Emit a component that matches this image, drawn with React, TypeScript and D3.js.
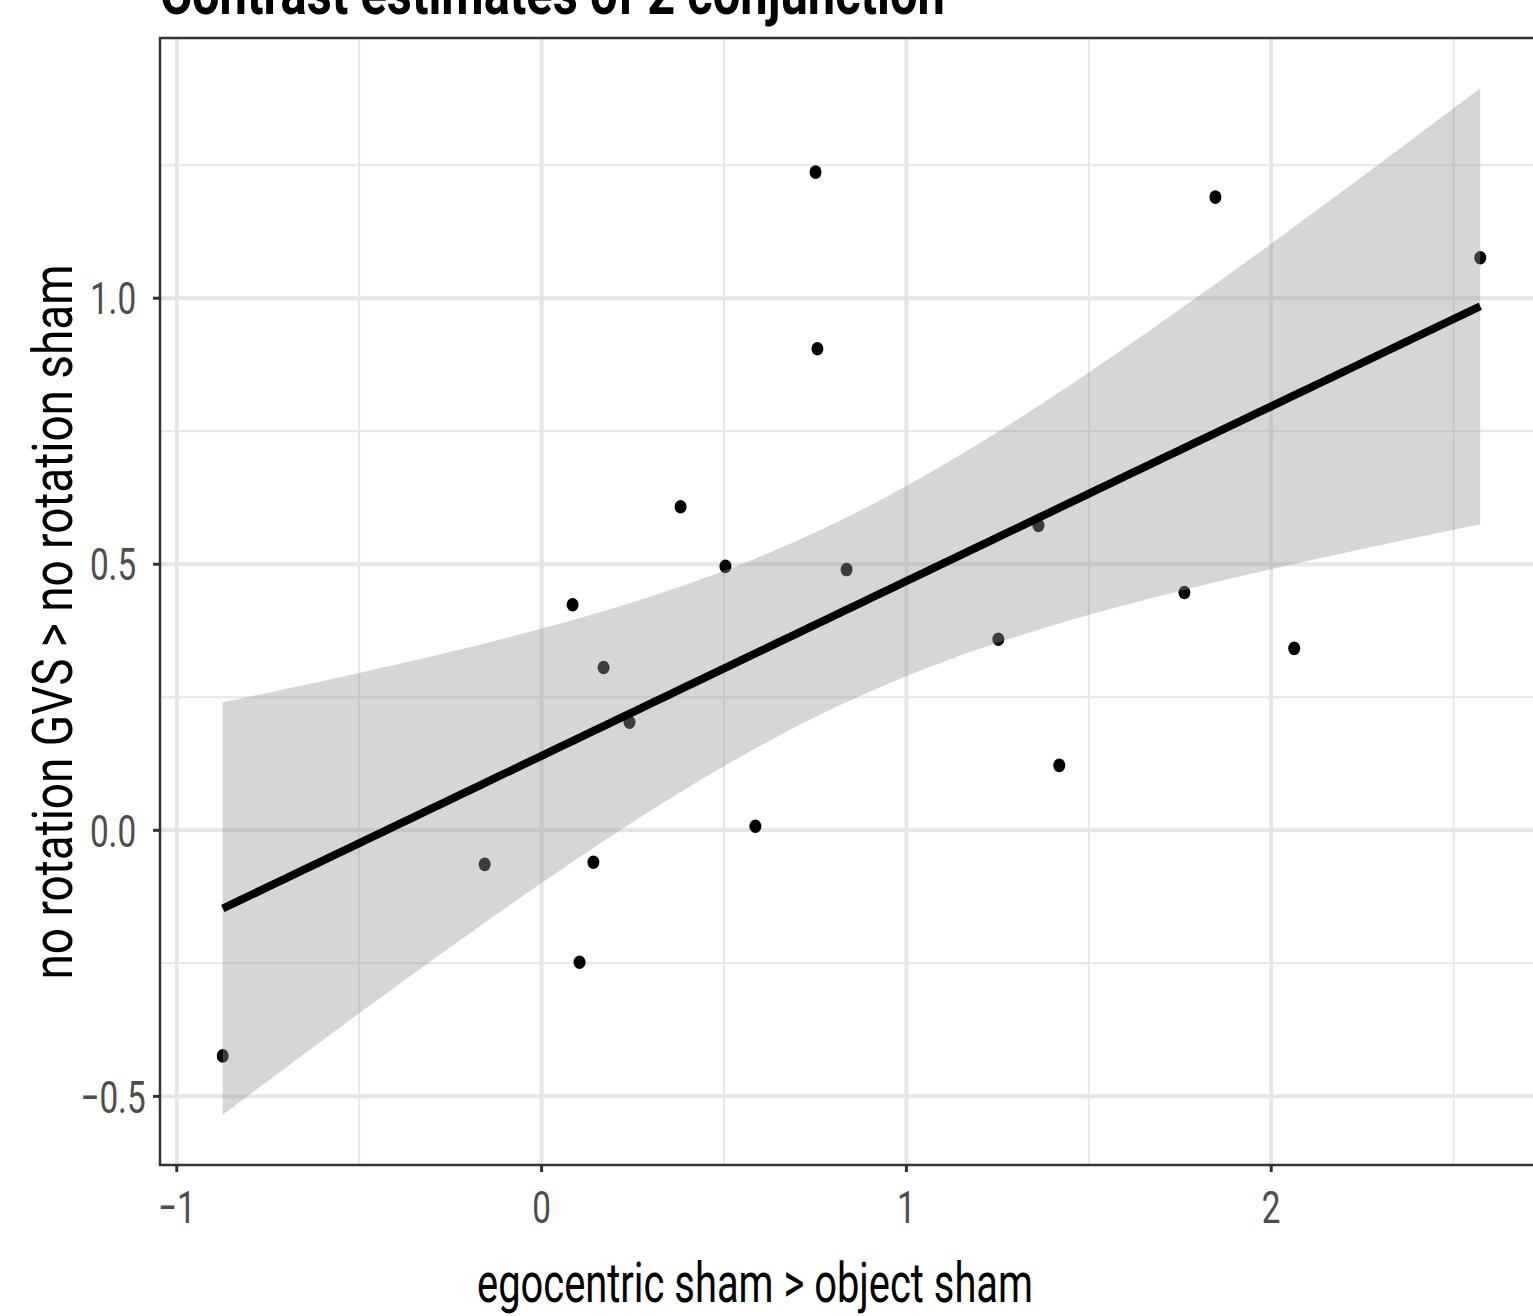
import React from "react";
import * as d3 from "d3";

const xValues = [-0.874, -0.156, 0.085, 0.104, 0.142, 0.170, 0.241, 0.381, 0.504, 0.586, 0.751, 0.756, 0.836, 1.252, 1.362, 1.419, 1.762, 1.847, 2.063, 2.573];
const yValues = [-0.424, -0.064, 0.424, -0.248, -0.060, 0.306, 0.203, 0.608, 0.496, 0.0075, 1.237, 0.905, 0.490, 0.359, 0.573, 0.122, 0.447, 1.190, 0.342, 1.076];
const xMajor = [-1, 0, 1, 2];
const xMinor = [-0.5, 0.5, 1.5, 2.5];
const yMajor = [-0.5, 0, 0.5, 1.0];
const yMinor = [-0.25, 0.25, 0.75, 1.25];
const xTickLabels = ["\u22121", "0", "1", "2"];
const yTickLabels = ["\u22120.5", "0.0", "0.5", "1.0"];
const xDomain = [-1.046, 2.745];
const yDomain = [-0.629, 1.489];
const title = "Contrast estimates of 2 conjunction";
const xTitle = "egocentric sham > object sham";
const yTitle = "no rotation GVS > no rotation sham";
const tCrit = 2.100922; // t(0.975, df = 18)

const W = 1533;
const H = 1316;
const P = { left: 160, right: 1543, top: 38, bottom: 1165 };
const FONT = "Roboto, 'Liberation Sans', sans-serif";

function regression(xs: number[], ys: number[]) {
  const n = xs.length;
  const mx = d3.mean(xs)!;
  const my = d3.mean(ys)!;
  let sxx = 0, sxy = 0;
  xs.forEach((x, i) => { sxx += (x - mx) ** 2; sxy += (x - mx) * (ys[i] - my); });
  const b = sxy / sxx;
  const a = my - b * mx;
  let sse = 0;
  xs.forEach((x, i) => { sse += (ys[i] - (a + b * x)) ** 2; });
  const s = Math.sqrt(sse / (n - 2));
  const [x0, x1] = d3.extent(xs) as [number, number];
  return d3.range(80).map((i) => {
    const x = x0 + ((x1 - x0) * i) / 79;
    const yhat = a + b * x;
    const se = s * Math.sqrt(1 / n + (x - mx) ** 2 / sxx);
    return { x, y: yhat, lo: yhat - tCrit * se, hi: yhat + tCrit * se };
  });
}

export default function App() {
  const x = d3.scaleLinear().domain(xDomain).range([P.left, P.right]);
  const y = d3.scaleLinear().domain(yDomain).range([P.bottom, P.top]);
  const fit = regression(xValues, yValues);
  const area = d3.area<any>().x((d) => x(d.x)).y0((d) => y(d.lo)).y1((d) => y(d.hi));
  const line = d3.line<any>().x((d) => x(d.x)).y((d) => y(d.y));
  const gridColor = "#e6e6e6";
  const sx = 0.74;

  return (
    <svg width={W} height={H} style={{ position: "absolute", left: 0, top: 0, background: "#fff" }}>
      <defs>
        <clipPath id="panel">
          <rect x={P.left} y={P.top} width={P.right - P.left} height={P.bottom - P.top} />
        </clipPath>
      </defs>
      <rect x={0} y={0} width={W} height={H} fill="#fff" />
      <g clipPath="url(#panel)">
        {xMinor.map((v) => (
          <line key={"xm" + v} x1={x(v)} x2={x(v)} y1={P.top} y2={P.bottom} stroke={gridColor} strokeWidth={2} />
        ))}
        {yMinor.map((v) => (
          <line key={"ym" + v} y1={y(v)} y2={y(v)} x1={P.left} x2={P.right} stroke={gridColor} strokeWidth={2} />
        ))}
        {xMajor.map((v) => (
          <line key={"xM" + v} x1={x(v)} x2={x(v)} y1={P.top} y2={P.bottom} stroke={gridColor} strokeWidth={4} />
        ))}
        {yMajor.map((v) => (
          <line key={"yM" + v} y1={y(v)} y2={y(v)} x1={P.left} x2={P.right} stroke={gridColor} strokeWidth={4} />
        ))}
        {xValues.map((v, i) => (
          <ellipse key={"p" + i} cx={x(v)} cy={y(yValues[i])} rx={6} ry={6.8} fill="#000" />
        ))}
        <path d={area(fit) || ""} fill="rgba(153,153,153,0.4)" />
        <path d={line(fit) || ""} fill="none" stroke="#000" strokeWidth={8} />
      </g>
      <rect x={P.left} y={P.top} width={P.right - P.left} height={P.bottom - P.top} fill="none" stroke="#333" strokeWidth={2.5} />
      {yMajor.map((v, i) => (
        <g key={"yt" + v}>
          <line x1={P.left - 7} x2={P.left} y1={y(v)} y2={y(v)} stroke="#333" strokeWidth={3} />
          <text transform={`translate(113,${y(v)}) scale(${sx},1)`} dy="0.36em" textAnchor="middle" fontFamily={FONT} fontSize={45} fill="#4d4d4d">
            {yTickLabels[i]}
          </text>
        </g>
      ))}
      {xMajor.map((v, i) => (
        <g key={"xt" + v}>
          <line x1={x(v)} x2={x(v)} y1={P.bottom} y2={P.bottom + 7} stroke="#333" strokeWidth={3} />
          <text transform={`translate(${x(v)},1223) scale(${sx},1)`} textAnchor="middle" fontFamily={FONT} fontSize={45} fill="#4d4d4d">
            {xTickLabels[i]}
          </text>
        </g>
      ))}
      <text x={755} y={1302} textAnchor="middle" textLength={556} lengthAdjust="spacingAndGlyphs" fontFamily={FONT} fontSize={56} fill="#000">
        {xTitle}
      </text>
      <text transform={`translate(72,622) rotate(-90)`} textAnchor="middle" textLength={715} lengthAdjust="spacingAndGlyphs" fontFamily={FONT} fontSize={56} fill="#000">
        {yTitle}
      </text>
      <text x={160} y={14} textLength={785} lengthAdjust="spacingAndGlyphs" fontFamily={FONT} fontWeight="bold" fontSize={62} fill="#000">
        {title}
      </text>
    </svg>
  );
}
